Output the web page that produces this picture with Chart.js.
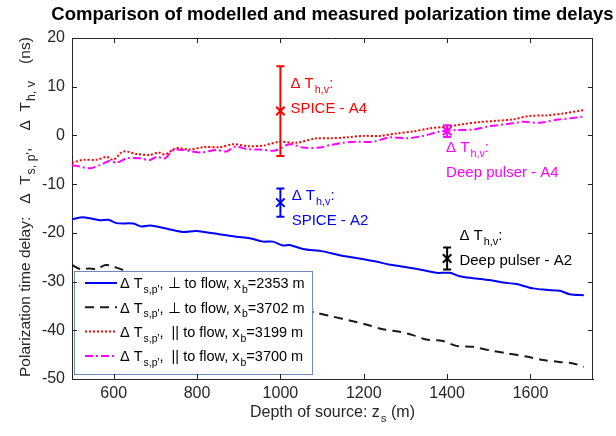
<!DOCTYPE html>
<html><head><meta charset="utf-8">
<script src="https://cdn.jsdelivr.net/npm/chart.js@4"></script>
<style>html,body{margin:0;padding:0;background:#fff}</style>
</head><body>
<canvas id="c" width="616" height="436"></canvas>
<script>
// ---- data ----
const xTickValues = [600, 800, 1000, 1200, 1400, 1600];
const yTickValues = [-50, -40, -30, -20, -10, 0, 10, 20];

const blueDepth = [500, 527, 567, 587, 607, 647, 667, 687, 735, 766, 799, 838, 894, 926, 958, 982, 1006, 1022, 1054, 1102, 1142, 1170, 1200, 1230, 1260, 1290, 1334, 1374, 1406, 1430, 1462, 1502, 1534, 1566, 1606, 1638, 1670, 1694, 1728];
const blueDelay = [-17.2, -16.8, -17.4, -17.3, -18.0, -18.1, -18.7, -18.5, -19.3, -19.8, -19.6, -20.1, -20.8, -21.1, -21.8, -21.8, -22.6, -22.5, -23.3, -23.8, -24.6, -25.0, -25.4, -25.9, -26.5, -26.9, -27.5, -28.2, -28.2, -28.9, -29.3, -29.7, -30.2, -30.5, -31.4, -31.7, -31.9, -32.6, -32.8];

const blackDepth = [500, 522, 540, 560, 580, 595, 612, 650, 700, 750, 800, 850, 900, 950, 1000, 1050, 1086, 1126, 1166, 1206, 1246, 1286, 1318, 1350, 1390, 1422, 1462, 1502, 1542, 1590, 1630, 1670, 1702, 1728];
const blackDelay = [-26.6, -27.5, -27.3, -27.4, -26.6, -26.8, -27.3, -28.4, -29.5, -30.4, -31.4, -32.3, -33.1, -34.0, -34.9, -35.7, -36.4, -37.2, -38.0, -38.8, -39.8, -40.3, -41.0, -41.9, -42.2, -43.2, -43.4, -44.1, -44.7, -45.4, -46.1, -46.5, -46.8, -47.5];

const redDepth = [500, 527, 559, 583, 599, 623, 655, 687, 707, 723, 751, 783, 815, 855, 887, 919, 958, 998, 1038, 1086, 1118, 1158, 1198, 1238, 1278, 1318, 1358, 1398, 1438, 1478, 1518, 1558, 1598, 1638, 1678, 1728];
const redDelay = [-5.6, -5.0, -5.0, -4.4, -5.0, -3.3, -3.8, -4.0, -3.5, -3.9, -2.6, -2.9, -2.4, -2.4, -1.8, -2.2, -2.1, -1.3, -1.5, -0.6, -0.6, -0.4, -0.1, -0.1, 0.4, 0.8, 1.45, 1.8, 2.3, 2.75, 3.0, 3.3, 4.0, 4.1, 4.5, 5.2];

const magDepth = [500, 519, 543, 567, 591, 607, 631, 663, 687, 703, 723, 743, 775, 807, 847, 871, 891, 919, 951, 987, 1022, 1054, 1094, 1118, 1150, 1182, 1222, 1262, 1302, 1342, 1382, 1422, 1462, 1502, 1542, 1582, 1622, 1662, 1694, 1728];
const magDelay = [-6.1, -6.4, -6.75, -6.1, -5.2, -5.6, -4.7, -4.7, -5.05, -4.4, -4.7, -3.0, -3.1, -3.5, -3.0, -3.3, -2.3, -2.8, -2.9, -3.1, -1.8, -2.5, -2.5, -2.0, -1.5, -1.3, -1.3, -0.4, -0.6, -0.1, 0.8, 1.1, 1.2, 1.9, 2.3, 2.8, 2.6, 3.2, 3.5, 3.85];

// measured delays (markers with error bars)
const measDepth = [1000, 1000, 1400, 1400];
const measDelay = [5.0, -13.8, 0.9, -25.25];
const measErr   = [9.2, 2.9, 1.2, 2.25];
const measNames = ['SPICE - A4', 'SPICE - A2', 'Deep pulser - A4', 'Deep pulser - A2'];

const legendNames = [
  ["Δ T", {sub: "s,p'"}, ", ⊥ to flow, x", {sub: "b"}, "=2353 m"],
  ["Δ T", {sub: "s,p'"}, ", ⊥ to flow, x", {sub: "b"}, "=3702 m"],
  ["Δ T", {sub: "s,p'"}, ",  || to flow, x", {sub: "b"}, "=3199 m"],
  ["Δ T", {sub: "s,p'"}, ",  || to flow, x", {sub: "b"}, "=3700 m"]
];

// ---- styles / layout ----
const FONT = "'Liberation Sans', Arial, Helvetica, sans-serif";
const AX = '#262626';
const measColors = ['#ff0000', '#0000ff', '#ff00ff', '#000000'];
// label anchors in data units (left edge, first line centre)
const labelAnchor = [[1024, 10.76], [1027, -12.2], [1397.6, -2.3], [1429.5, -20.4]];

function pts(xs, ys) { return xs.map((x, i) => ({x: x, y: ys[i]})); }

function drawRich(ctx, parts, x, y, size, color, subScale) {
  const ss = subScale || 0.72;
  ctx.fillStyle = color;
  ctx.textBaseline = 'alphabetic';
  ctx.textAlign = 'left';
  let cx = x;
  for (const p of parts) {
    if (typeof p === 'string') {
      ctx.font = size + 'px ' + FONT;
      ctx.fillText(p, cx, y);
      cx += ctx.measureText(p).width;
    } else {
      ctx.font = (size * ss) + 'px ' + FONT;
      ctx.fillText(p.sub, cx + 1, y + size * 0.33);
      cx += ctx.measureText(p.sub).width + 1;
    }
  }
  return cx - x;
}
function richWidth(ctx, parts, size) {
  let w = 0;
  for (const p of parts) {
    if (typeof p === 'string') { ctx.font = size + 'px ' + FONT; w += ctx.measureText(p).width; }
    else { ctx.font = (size * 0.72) + 'px ' + FONT; w += ctx.measureText(p.sub).width + 1; }
  }
  return w;
}

const seriesStyles = [
  {color: '#0000ff', dash: []},
  {color: '#1a1a1a', dash: [9, 6]},
  {color: '#ff0000', dash: [2, 2]},
  {color: '#ff00ff', dash: [8, 3, 2, 3]}
];

const decor = {
  id: 'decor',
  afterDatasetsDraw(chart) {
    const ctx = chart.ctx, a = chart.chartArea;
    const xs = chart.scales.x, ys = chart.scales.y;
    ctx.save();
    // error bars
    ctx.lineWidth = 2;
    for (let i = 0; i < measDepth.length; i++) {
      const px = xs.getPixelForValue(measDepth[i]);
      const t = ys.getPixelForValue(measDelay[i] + measErr[i]);
      const b = ys.getPixelForValue(measDelay[i] - measErr[i]);
      ctx.strokeStyle = measColors[i];
      ctx.beginPath();
      ctx.moveTo(px, t); ctx.lineTo(px, b);
      ctx.moveTo(px - 4, t); ctx.lineTo(px + 4, t);
      ctx.moveTo(px - 4, b); ctx.lineTo(px + 4, b);
      ctx.stroke();
    }
    // annotation labels
    for (let i = 0; i < measDepth.length; i++) {
      const lx = xs.getPixelForValue(labelAnchor[i][0]);
      const ly = ys.getPixelForValue(labelAnchor[i][1]);
      drawRich(ctx, ['Δ T', {sub: 'h,v'}, ':'], lx, ly + 5.4, 15, measColors[i]);
      drawRich(ctx, [measNames[i]], lx, ly + 25 + 5.4, 15, measColors[i]);
    }
    // legend
    const L = {x: 74.5, y: 271.5, w: 238, h: 103};
    ctx.fillStyle = '#ffffff';
    ctx.fillRect(L.x, L.y, L.w, L.h);
    ctx.strokeStyle = '#7088bb';
    ctx.lineWidth = 1;
    ctx.setLineDash([]);
    ctx.strokeRect(L.x, L.y, L.w, L.h);
    for (let i = 0; i < 4; i++) {
      const cy = 283 + i * 24.3;
      ctx.strokeStyle = seriesStyles[i].color;
      ctx.lineWidth = 2;
      ctx.setLineDash(seriesStyles[i].dash);
      ctx.beginPath(); ctx.moveTo(85, cy); ctx.lineTo(117, cy); ctx.stroke();
      ctx.setLineDash([]);
      drawRich(ctx, legendNames[i], 120, cy + 5.2, 14.5, '#000');
    }
    // box and inward ticks
    ctx.strokeStyle = AX; ctx.lineWidth = 1; ctx.setLineDash([]);
    ctx.beginPath();
    ctx.moveTo(a.left, a.top + 0.5); ctx.lineTo(a.right, a.top + 0.5);
    ctx.moveTo(a.right - 0.5, a.top); ctx.lineTo(a.right - 0.5, a.bottom);
    for (const v of xTickValues) {
      const px = Math.round(xs.getPixelForValue(v)) + 0.5;
      ctx.moveTo(px, a.bottom); ctx.lineTo(px, a.bottom - 5);
      ctx.moveTo(px, a.top); ctx.lineTo(px, a.top + 5);
    }
    for (const v of yTickValues) {
      const py = Math.round(ys.getPixelForValue(v)) + 0.5;
      ctx.moveTo(a.left, py); ctx.lineTo(a.left + 5, py);
      ctx.moveTo(a.right, py); ctx.lineTo(a.right - 5, py);
    }
    ctx.stroke();
    ctx.restore();
  },
  afterDraw(chart) {
    const ctx = chart.ctx, a = chart.chartArea;
    ctx.save();
    // title
    ctx.font = 'bold 18.5px ' + FONT;
    ctx.fillStyle = '#000';
    ctx.textAlign = 'center';
    ctx.textBaseline = 'alphabetic';
    ctx.fillText('Comparison of modelled and measured polarization time delays', (a.left + a.right) / 2, 20);
    // x title
    const xParts = ['Depth of source: z', {sub: 's'}, ' (m)'];
    const xw = richWidth(ctx, xParts, 16);
    drawRich(ctx, xParts, (a.left + a.right) / 2 - xw / 2, 417, 16, AX);
    // y title
    ctx.translate(30, 377);
    ctx.rotate(-Math.PI / 2);
    drawRich(ctx, ['Polarization time delay:   Δ  T', {sub: "s, p'"}, ',    Δ  T', {sub: 'h, v'}, '    (ns)'], 0, 0, 15.5, AX, 0.8);
    ctx.restore();
  }
};

new Chart(document.getElementById('c'), {
  type: 'line',
  data: {
    datasets: [
      {data: pts(blackDepth, blackDelay), borderColor: seriesStyles[1].color, borderDash: seriesStyles[1].dash, borderWidth: 2, pointRadius: 0, tension: 0.3},
      {data: pts(blueDepth, blueDelay), borderColor: seriesStyles[0].color, borderWidth: 2, pointRadius: 0, tension: 0.3},
      {data: pts(redDepth, redDelay), borderColor: seriesStyles[2].color, borderDash: seriesStyles[2].dash, borderWidth: 2, pointRadius: 0, tension: 0.3},
      {data: pts(magDepth, magDelay), borderColor: seriesStyles[3].color, borderDash: seriesStyles[3].dash, borderWidth: 2, pointRadius: 0, tension: 0.3},
      {type: 'scatter', data: pts(measDepth, measDelay), showLine: false, pointStyle: 'crossRot', pointRadius: 6, pointBorderWidth: 2, pointBorderColor: measColors, pointBackgroundColor: measColors}
    ]
  },
  options: {
    responsive: false,
    animation: false,
    events: [],
    layout: {padding: {top: 38, right: 23, left: 0, bottom: 0}},
    plugins: {legend: {display: false}, title: {display: false}, tooltip: {enabled: false}},
    scales: {
      x: {
        type: 'linear', min: 500, max: 1750,
        afterBuildTicks: s => { s.ticks = xTickValues.map(v => ({value: v})); },
        afterFit: s => { s.height = 57; },
        grid: {display: false, drawTicks: false},
        border: {display: true, color: AX, width: 1},
        ticks: {font: {family: FONT, size: 16}, color: AX, padding: 5, maxRotation: 0, autoSkip: false, callback: v => String(v)}
      },
      y: {
        type: 'linear', min: -50, max: 20,
        afterBuildTicks: s => { s.ticks = yTickValues.map(v => ({value: v})); },
        afterFit: s => { s.width = 72; },
        grid: {display: false, drawTicks: false},
        border: {display: true, color: AX, width: 1},
        ticks: {font: {family: FONT, size: 16}, color: AX, padding: 7, callback: v => String(v)}
      }
    }
  },
  plugins: [decor]
});
</script>
</body></html>
